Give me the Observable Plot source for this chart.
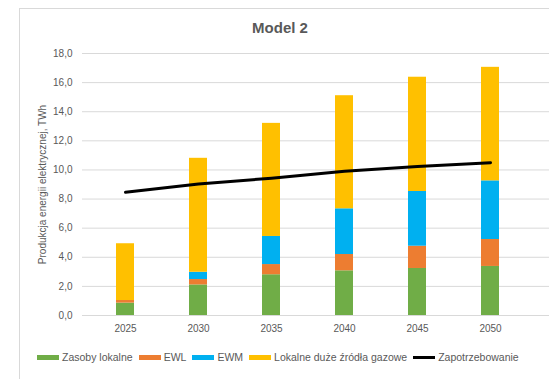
<!DOCTYPE html>
<html><head><meta charset="utf-8">
<script src="https://cdn.jsdelivr.net/npm/d3@7"></script>
<script src="https://cdn.jsdelivr.net/npm/@observablehq/plot@0.6"></script>
<style>
body{margin:0;background:#fff;font-family:"Liberation Sans",Arial,sans-serif;}
#wrap{position:relative;width:549px;height:379px;overflow:hidden;}
#frame{position:absolute;left:19px;top:8px;width:600px;height:400px;border:1px solid #d9d9d9;box-sizing:border-box;}
#title{position:absolute;left:0;width:560px;top:19px;text-align:center;font-weight:bold;font-size:15px;color:#595959;}
#chart{position:absolute;left:0;top:45px;}
#legend{position:absolute;left:37px;top:351px;display:flex;align-items:center;font-size:10.5px;color:#595959;white-space:nowrap;}
.it{display:flex;align-items:center;margin-right:6px;}
.sw{width:22px;height:5px;margin-right:3px;}
</style></head>
<body><div id="wrap"><div id="frame"></div><div id="title">Model 2</div><div id="chart"></div><div id="legend"></div></div>
<script>
const years = ["2025","2030","2035","2040","2045","2050"];
const seriesNames = ["Zasoby lokalne","EWL","EWM","Lokalne duże źródła gazowe"];
const zasoby = [0.85, 2.1, 2.8, 3.07, 3.23, 3.37];
const ewl = [0.18, 0.37, 0.7, 1.12, 1.53, 1.85];
const ewm = [0.0, 0.5, 1.93, 3.14, 3.76, 4.03];
const gaz = [3.9, 7.83, 7.77, 7.77, 7.85, 7.8];
const demandName = "Zapotrzebowanie";
const demand = [8.47, 9.04, 9.43, 9.91, 10.23, 10.5];
const yTicks = [0,2,4,6,8,10,12,14,16,18];
const yLabel = "Produkcja energii elektrycznej, TWh";
const colors = ["#70AD47","#ED7D31","#00B0F0","#FFC000"];

const seriesVals = [zasoby, ewl, ewm, gaz];
const rows = [];
years.forEach((y,i)=>seriesVals.forEach((s,k)=>rows.push({year:y, series:seriesNames[k], value:s[i]})));
const lineRows = years.map((y,i)=>({year:y, value:demand[i]}));
const fmt = d => d.toFixed(1).replace(".", ",");

const chart = Plot.plot({
  width: 549, height: 300,
  marginLeft: 82, marginRight: 0, marginTop: 8, marginBottom: 30,
  style: {fontFamily:'"Liberation Sans",Arial,sans-serif', fontSize:"10px", color:"#595959", background:"transparent"},
  x: {type:"band", domain: years, range:[82,532], paddingInner:0.754, paddingOuter:0.45, tickSize:0, tickPadding:9, label:null},
  y: {domain:[0,18], ticks:yTicks, tickFormat:fmt, tickSize:0, tickPadding:10,
      label:yLabel, labelArrow:"none", labelAnchor:"center", labelOffset:44},
  color: {domain: seriesNames, range: colors},
  marks: [
    Plot.ruleY(yTicks, {stroke:"#d9d9d9", strokeWidth:1}),
    Plot.barY(rows, {x:"year", y:"value", fill:"series"}),
    Plot.line(lineRows, {x:"year", y:"value", stroke:"#000", strokeWidth:3})
  ]
});
document.getElementById("chart").appendChild(chart);

const lg = document.getElementById("legend");
seriesNames.forEach((n,i)=>{
  const d=document.createElement("div");d.className="it";
  d.innerHTML=`<span class="sw" style="background:${colors[i]}"></span><span>${n}</span>`;
  lg.appendChild(d);
});
const d=document.createElement("div");d.className="it";
d.innerHTML=`<span class="sw" style="background:#000;height:3px"></span><span>${demandName}</span>`;
lg.appendChild(d);
</script></body></html>
